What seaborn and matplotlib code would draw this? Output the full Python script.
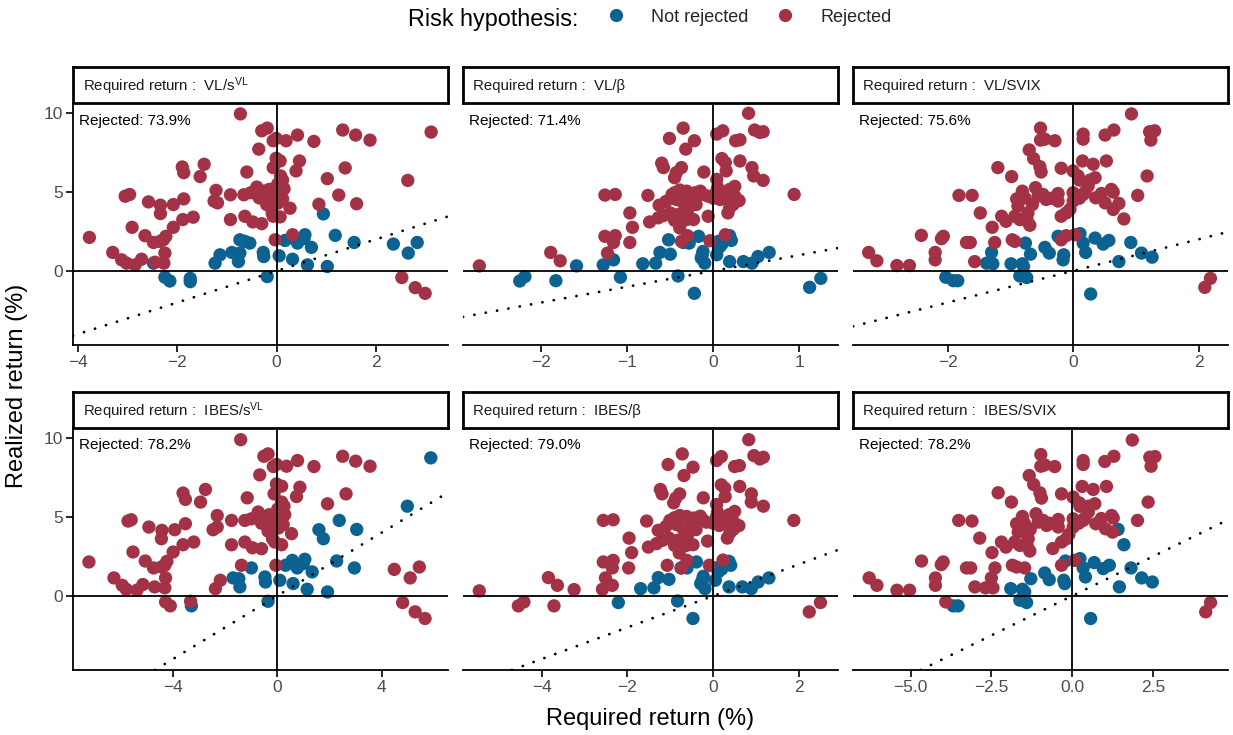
import matplotlib
matplotlib.use("Agg")
import matplotlib.pyplot as plt
import seaborn as sns
import pandas as pd
from matplotlib.lines import Line2D

# ---------------- data ----------------
panel_keys = ["VL_sVL", "VL_beta", "VL_SVIX", "IBES_sVL", "IBES_beta", "IBES_SVIX"]
strip_labels = [
    "Required return :  VL/$\\mathrm{s}^{\\mathrm{VL}}$",
    "Required return :  VL/β",
    "Required return :  VL/SVIX",
    "Required return :  IBES/$\\mathrm{s}^{\\mathrm{VL}}$",
    "Required return :  IBES/β",
    "Required return :  IBES/SVIX",
]
rejected_labels = ["Rejected: 73.9%", "Rejected: 71.4%", "Rejected: 75.6%",
                   "Rejected: 78.2%", "Rejected: 79.0%", "Rejected: 78.2%"]
status_order = ["Not rejected", "Rejected"]

# (required return, realized return) pairs
vl_svl_rejected = [
    (-0.73, 9.94), (-0.30, 8.87), (-0.19, 9.04), (-0.07, 8.24), (-0.01, 8.39), (0.19, 8.24),
    (0.42, 8.60), (0.75, 8.20), (1.33, 8.92), (1.59, 8.60), (1.88, 8.28), (3.11, 8.79),
    (-0.36, 7.71), (-0.01, 7.13), (0.07, 6.96), (-0.07, 6.54), (0.46, 6.96), (0.39, 6.33),
    (-1.90, 6.58), (-1.87, 6.22), (-1.46, 6.75), (-1.54, 5.97), (-0.60, 6.26), (0.08, 6.01),
    (0.12, 5.75), (1.38, 6.52), (1.02, 5.84), (2.64, 5.73), (-3.05, 4.73), (-2.96, 4.84),
    (-2.58, 4.37), (-2.34, 4.16), (-2.34, 3.63), (-2.08, 4.20), (-1.87, 4.56), (-1.22, 5.10),
    (-1.26, 4.42), (-1.19, 4.31), (-0.93, 4.82), (-0.66, 4.82), (-0.52, 4.95), (-0.40, 5.31),
    (-0.27, 5.05), (-0.15, 5.16), (-0.07, 4.99), (-0.23, 4.52), (-0.13, 4.42), (-0.03, 4.73),
    (0.07, 4.95), (0.15, 5.20), (0.12, 4.56), (-0.20, 4.20), (0.03, 4.30), (-0.35, 4.62),
    (0.02, 5.50), (-0.09, 3.67), (-0.07, 3.46), (0.07, 3.42), (0.27, 3.97), (0.85, 4.22),
    (1.25, 4.80), (1.61, 4.25), (-1.89, 3.25), (-1.68, 3.40), (-2.91, 2.76), (-2.08, 2.76),
    (-0.93, 3.25), (-0.64, 3.46), (-0.48, 3.10), (-0.30, 2.99), (-3.77, 2.12), (-2.65, 2.23),
    (-2.48, 1.80), (-2.35, 1.87), (-2.23, 2.19), (-2.28, 1.97), (-3.30, 1.17), (-3.12, 0.70),
    (-3.02, 0.49), (-2.85, 0.38), (-2.72, 0.74), (-2.25, 1.13), (-2.27, 0.49), (-2.45, 0.55),
    (-0.03, 1.97), (0.32, 2.29), (2.52, -0.42), (2.79, -1.06), (2.99, -1.42),
]
vl_svl_not = [
    (0.94, 3.61), (-0.74, 1.97), (-0.64, 1.87), (-0.54, 1.76), (0.17, 1.93), (0.42, 1.76),
    (0.57, 2.29), (0.70, 1.49), (1.18, 2.25), (1.56, 1.80), (2.35, 1.70), (2.65, 1.13),
    (2.83, 1.80), (-2.48, 0.49), (-1.24, 0.49), (-1.14, 1.02), (-0.90, 1.17), (-0.77, 0.59),
    (-0.74, 1.13), (-0.27, 1.17), (-0.26, 0.91), (0.05, 0.96), (0.32, 0.74), (0.62, 0.38),
    (1.02, 0.28), (-2.25, -0.40), (-2.15, -0.64), (-1.74, -0.47), (-1.74, -0.68),
    (-0.19, -0.36), (0.55, 2.05),
]

vl_beta_rejected = [
    (0.41, 9.98), (-0.35, 9.04), (0.48, 8.92), (0.54, 8.77), (0.58, 8.81), (0.04, 8.66),
    (0.11, 8.87), (-0.51, 8.39), (-0.22, 8.24), (-0.32, 7.71), (0.26, 8.24), (0.31, 8.30),
    (0.10, 7.11), (0.14, 6.86), (0.15, 6.33), (0.31, 6.96), (-0.60, 6.82), (-0.58, 6.54),
    (-0.37, 6.54), (-0.43, 6.22), (-0.45, 5.90), (-0.11, 6.26), (0.45, 6.54), (0.47, 6.01),
    (0.58, 5.73), (0.04, 5.80), (-1.26, 4.80), (-1.14, 4.84), (-0.76, 4.78),
    (-0.48, 4.84), (-0.39, 5.12), (-0.31, 5.05), (-0.21, 4.95), (-0.12, 4.84), (-0.06, 4.73),
    (0.04, 5.05), (0.19, 5.16), (0.25, 4.73), (0.14, 4.63), (0.08, 4.52), (-0.35, 4.31),
    (-0.43, 4.52), (-0.27, 4.42), (0.23, 4.20), (-0.45, 4.95), (-0.25, 4.70), (-0.15, 5.05),
    (0.00, 4.60), (0.10, 4.90), (0.20, 4.40), (-0.55, 4.40), (-0.30, 3.80), (-0.45, 3.20),
    (0.05, 5.30), (0.30, 4.45), (-0.20, 4.20), (0.25, 5.35),
    (0.94, 4.84), (-0.63, 4.16), (-0.97, 3.67), (-0.94, 2.76), (-0.97, 1.80), (-0.74, 3.10),
    (-0.64, 3.36), (-0.58, 3.50), (-0.50, 3.67), (-0.41, 3.57), (-0.39, 3.04), (-0.39, 2.72),
    (-0.31, 3.25), (-0.23, 3.25), (-0.06, 3.46), (0.17, 3.67), (0.19, 3.99), (-1.26, 2.19),
    (-1.14, 2.23), (-1.16, 1.80), (-1.23, 1.13), (-1.89, 1.17), (-1.78, 0.64), (-2.72, 0.32),
    (-0.37, 1.87), (-0.30, 2.23), (-0.04, 1.91), (0.14, 2.29),
]
vl_beta_not = [
    (-0.52, 1.97), (-0.35, 1.80), (-0.28, 1.76), (-0.17, 2.19), (0.19, 2.23), (0.21, 1.93),
    (0.06, 1.87), (0.08, 1.55), (-0.62, 1.17), (-0.50, 1.06), (-0.12, 1.23), (-0.14, 0.81),
    (-0.10, 0.49), (0.04, 1.02), (-1.16, 0.70), (-1.28, 0.38), (-1.59, 0.32), (-0.82, 0.45),
    (-0.67, 0.49), (0.19, 0.59), (0.35, 0.59), (0.45, 0.49), (0.52, 0.91), (0.65, 1.17),
    (-2.25, -0.64), (-2.19, -0.36), (-1.83, -0.62), (-1.08, -0.40), (-0.41, -0.32),
    (-0.22, -1.42), (1.12, -1.04), (1.25, -0.47), (0.10, 1.70), (-0.13, 1.00),
]

vl_svix_rejected = [
    (0.93, 9.94), (-0.52, 9.04), (-0.52, 8.28), (-0.45, 8.34), (-0.29, 8.24), (0.16, 8.66),
    (0.16, 8.34), (0.51, 8.60), (0.65, 8.92), (1.22, 8.81), (1.30, 8.87), (1.24, 8.28),
    (-0.70, 7.66), (-0.63, 7.11), (-0.53, 6.60), (-0.51, 6.26), (-1.20, 6.54), (-0.98, 5.97),
    (-0.19, 6.50), (0.00, 6.33), (0.08, 6.01), (0.10, 5.75), (0.15, 6.96), (0.32, 6.75),
    (0.53, 6.96), (0.27, 5.75), (0.35, 5.90), (1.18, 6.01), (-1.82, 4.78), (-1.61, 4.78),
    (-1.48, 3.67), (-1.29, 2.76), (-1.14, 3.46), (-1.07, 3.14),
    (-0.90, 4.56), (-0.81, 5.05), (-0.77, 4.63), (-0.88, 4.10), (-0.72, 3.67), (-0.73, 3.14),
    (-0.69, 2.89), (-0.93, 3.46), (-0.85, 3.25), (-0.74, 3.35), (-0.60, 5.27), (-0.56, 4.73),
    (-0.48, 4.84), (-0.43, 4.52), (-0.24, 4.90), (-0.24, 4.42), (-0.19, 3.46), (-0.11, 3.67),
    (0.00, 4.95), (0.00, 4.42), (0.19, 4.99), (0.24, 5.37), (0.16, 4.84), (0.36, 4.63),
    (0.51, 4.31), (0.61, 5.16), (0.64, 4.99), (0.73, 4.27), (0.64, 3.89), (0.81, 3.29),
    (1.03, 4.78), (-0.35, 4.60), (-0.65, 4.20), (0.10, 4.60), (-0.05, 3.90), (0.45, 4.90),
    (-2.42, 2.25), (-2.07, 2.19), (-2.10, 2.04), (-1.70, 1.80), (-1.64, 1.80), (-1.25, 1.80),
    (-0.97, 1.97), (-0.93, 1.87), (-3.26, 1.17), (-3.13, 0.64), (-2.81, 0.34), (-2.61, 0.34),
    (-2.20, 1.17), (-2.20, 0.70), (-1.57, 0.59), (-0.19, 1.97), (-0.11, 2.23), (0.03, 2.29),
    (2.10, -1.04), (2.19, -0.47),
]
vl_svix_not = [
    (-0.24, 2.19), (0.11, 2.36), (0.16, 1.76), (0.20, 1.17), (0.35, 2.08), (0.48, 1.70),
    (0.57, 1.93), (0.92, 1.80), (1.09, 1.13), (1.26, 0.87), (0.73, 0.59), (-0.76, 1.76),
    (-0.68, 1.06), (-0.45, 1.49), (-0.38, 1.13), (-0.15, 1.02), (-0.16, 0.70), (-1.30, 1.17),
    (-1.38, 0.49), (-1.28, 0.45), (-0.99, 0.45), (-0.81, 0.45), (-0.79, 0.28), (-2.03, -0.40),
    (-1.91, -0.62), (-1.84, -0.62), (-0.85, -0.32), (-0.74, -0.42), (0.28, -1.46),
]

ibes_svl_rejected = [
    (-1.40, 9.89), (-0.51, 8.84), (-0.35, 8.99), (-0.15, 8.19), (-0.03, 8.32), (0.36, 8.21),
    (0.78, 8.57), (1.41, 8.19), (2.51, 8.84), (3.01, 8.53), (3.56, 8.21), (-0.67, 7.66),
    (-0.03, 7.09), (0.17, 6.95), (-0.12, 6.46), (0.87, 6.88), (0.74, 6.29), (-3.61, 6.51),
    (-3.52, 6.11), (-2.75, 6.74), (-2.94, 5.94), (-1.15, 6.21), (0.17, 5.94), (0.26, 5.68),
    (2.64, 6.46), (1.93, 5.83), (-5.72, 4.74), (-5.60, 4.82), (-4.92, 4.36), (-4.42, 4.15),
    (-4.44, 3.62), (-3.93, 4.19), (-3.52, 4.57), (-2.30, 5.09), (-2.46, 4.19), (-2.30, 4.36),
    (-1.75, 4.78), (-1.24, 4.78), (-0.99, 4.88), (-0.73, 5.31),
    (-0.47, 4.99), (-0.31, 5.14), (-0.15, 4.88), (-0.41, 4.51), (-0.22, 4.36), (-0.03, 4.67),
    (0.17, 4.88), (0.29, 5.14), (0.23, 4.51), (-0.35, 4.10), (0.05, 4.30), (-0.60, 4.60),
    (0.02, 5.50), (-0.25, 4.75),
    (-0.18, 3.62), (-0.09, 3.41), (0.17, 3.24), (0.55, 3.94), (-3.61, 3.24), (-3.20, 3.41),
    (-5.53, 2.78), (-3.99, 2.78), (-1.75, 3.24), (-1.24, 3.41), (-0.95, 3.05), (-0.60, 2.99),
    (-7.22, 2.15), (-5.06, 2.21), (-4.74, 1.77), (-4.44, 1.83), (-4.23, 2.19), (-4.31, 1.94),
    (-6.26, 1.14), (-5.94, 0.67), (-5.79, 0.42), (-5.38, 0.36), (-5.15, 0.72), (-4.28, 1.14),
    (-4.31, 0.51), (-4.70, 0.57), (-1.37, 1.94), (-0.05, 1.94), (-2.37, 0.46), (-2.18, 0.99),
    (-3.32, -0.34), (-4.28, -0.38), (-4.10, -0.63), (4.49, 1.68), (5.10, 1.14), (5.45, 1.83),
    (4.81, -0.42), (5.29, -1.01), (5.67, -1.43),
]
ibes_svl_not = [
    (5.89, 8.74), (4.99, 5.68), (2.38, 4.78), (3.05, 4.21), (1.60, 4.19), (1.77, 3.62),
    (-0.99, 1.77), (-1.69, 1.14), (-1.47, 1.09), (-1.43, 0.57), (-0.47, 1.20), (-0.45, 0.88),
    (0.10, 0.99), (0.32, 1.94), (0.58, 2.25), (0.77, 1.77), (1.06, 2.32), (1.34, 1.52),
    (0.61, 0.78), (1.15, 0.42), (1.93, 0.25), (2.28, 2.21), (2.96, 1.77), (-3.29, -0.63),
    (-0.35, -0.34), (1.00, 2.05),
]

ibes_beta_rejected = [
    (0.83, 9.89), (-0.72, 8.99), (0.95, 8.88), (1.09, 8.67), (1.17, 8.78), (0.08, 8.57),
    (0.19, 8.82), (-1.05, 8.32), (-0.47, 8.15), (-0.68, 7.62), (0.50, 8.19), (0.61, 8.25),
    (0.19, 7.03), (0.27, 6.82), (0.28, 6.29), (0.62, 6.93), (-1.23, 6.74), (-1.19, 6.46),
    (-0.78, 6.46), (-0.87, 6.19), (-0.92, 5.89), (-0.23, 6.21), (0.89, 6.46), (0.89, 5.94),
    (1.17, 5.68), (0.08, 5.79), (-2.56, 4.78), (-2.33, 4.82), (-1.55, 4.74),
    (-1.01, 4.78), (-0.78, 5.09), (-0.62, 5.03), (-0.45, 4.93), (-0.25, 4.84), (-0.16, 4.67),
    (0.08, 5.03), (0.37, 5.14), (0.48, 4.67), (0.27, 4.63), (0.14, 4.46), (-0.70, 4.25),
    (-0.85, 4.51), (-0.54, 4.36), (0.47, 4.21), (-0.90, 4.95), (-0.50, 4.70), (-0.30, 5.05),
    (0.00, 4.60), (0.20, 4.90), (0.40, 4.40), (-1.10, 4.40), (-0.60, 3.80), (-0.90, 3.20),
    (0.10, 5.30), (0.60, 4.45), (-0.40, 4.20), (0.50, 5.35),
    (1.88, 4.78), (-1.28, 4.15), (-1.96, 3.66), (-1.90, 2.74), (-1.97, 1.77), (-1.51, 3.09),
    (-1.32, 3.31), (-1.18, 3.52), (-1.03, 3.66), (-0.83, 3.52), (-0.78, 2.99), (-0.79, 2.72),
    (-0.62, 3.20), (-0.47, 3.24), (-0.13, 3.47), (0.33, 3.66), (0.39, 4.00), (-2.56, 2.15),
    (-2.33, 2.25), (-2.35, 1.77), (-2.51, 1.14), (-2.58, 0.42), (-2.35, 0.67), (-3.84, 1.16),
    (-3.63, 0.67), (-3.24, 0.40), (-5.45, 0.32), (-4.54, -0.63), (-4.41, -0.38), (-3.71, -0.63),
    (-1.07, 1.94), (-0.74, 1.77), (-0.61, 2.25), (-0.09, 1.94), (0.23, 2.27), (2.24, -1.01),
    (2.50, -0.42),
]
ibes_beta_not = [
    (-0.39, 2.15), (-0.75, 1.77), (-0.61, 1.77), (0.37, 2.19), (0.41, 1.94), (0.08, 1.77),
    (0.12, 1.52), (-1.28, 1.16), (-1.03, 1.05), (-0.23, 1.24), (-0.29, 0.78), (-0.19, 0.46),
    (0.05, 0.99), (-1.69, 0.46), (-1.38, 0.51), (0.37, 0.57), (0.68, 0.57), (0.89, 0.46),
    (1.05, 0.88), (1.30, 1.14), (-2.21, -0.42), (-0.83, -0.32), (-0.47, -1.43), (0.20, 1.70),
    (-0.25, 1.00),
]

ibes_svix_rejected = [
    (1.86, 9.87), (-0.97, 8.95), (-0.97, 8.21), (-0.85, 8.29), (-0.54, 8.19), (0.34, 8.57),
    (0.34, 8.32), (1.01, 8.51), (1.29, 8.84), (2.40, 8.78), (2.56, 8.82), (2.44, 8.21),
    (-1.33, 7.62), (-1.19, 7.05), (-1.00, 6.53), (-0.95, 6.19), (-2.29, 6.53), (-1.88, 5.94),
    (-0.33, 6.46), (0.03, 6.25), (0.22, 5.89), (0.24, 5.68), (0.31, 6.93), (0.65, 6.74),
    (1.06, 6.93), (0.50, 5.68), (0.70, 5.83), (2.35, 5.94), (-3.51, 4.78), (-3.10, 4.74),
    (-2.86, 3.66), (-2.48, 2.74), (-2.19, 3.41), (-2.05, 3.09),
    (-1.72, 4.57), (-1.54, 5.03), (-1.47, 4.57), (-1.67, 4.04), (-1.36, 3.62), (-1.38, 3.09),
    (-1.31, 2.84), (-1.78, 3.41), (-1.62, 3.20), (-1.41, 3.31), (-1.12, 5.20), (-1.05, 4.67),
    (-0.90, 4.78), (-0.79, 4.46), (-0.43, 4.84), (-0.43, 4.36), (-0.33, 3.41), (-0.18, 3.62),
    (0.03, 4.88), (0.03, 4.36), (0.39, 4.93), (0.50, 5.31), (0.34, 4.78), (0.73, 4.57),
    (1.03, 4.25), (1.22, 5.09), (1.27, 4.93), (1.25, 4.04), (-0.70, 4.60), (-1.30, 4.20),
    (0.20, 4.60), (-0.10, 3.90), (0.90, 4.90), (-0.60, 3.00),
    (2.02, 4.78), (-4.66, 2.21), (-3.99, 2.15), (-4.05, 1.98), (-3.27, 1.77), (-3.14, 1.77),
    (-2.39, 1.77), (-1.85, 1.94), (-1.72, 1.83), (-1.47, 1.77), (-6.28, 1.14), (-6.04, 0.67),
    (-5.42, 0.36), (-5.03, 0.36), (-4.23, 1.14), (-4.23, 0.67), (-3.01, 0.57), (-2.68, 0.51),
    (-2.45, 0.51), (-2.50, 1.14), (-0.33, 1.94), (0.08, 2.25), (-3.91, -0.38), (4.13, -1.01),
    (4.28, -0.42),
]
ibes_svix_not = [
    (1.42, 4.21), (1.60, 3.24), (-0.21, 2.21), (0.24, 2.36), (0.34, 1.77), (0.41, 1.20),
    (0.68, 2.11), (0.96, 1.73), (1.15, 1.94), (1.82, 1.77), (2.15, 1.14), (2.48, 0.88),
    (1.46, 0.57), (-1.28, 1.09), (-0.85, 1.45), (-0.71, 1.03), (-0.26, 0.99), (-0.23, 0.78),
    (-1.90, 0.46), (-1.54, 0.42), (-1.47, 0.25), (-1.62, -0.27), (-1.41, -0.42), (-3.68, -0.63),
    (-3.53, -0.63), (0.57, -1.43),
]

panel_points = {
    "VL_sVL": (vl_svl_not, vl_svl_rejected),
    "VL_beta": (vl_beta_not, vl_beta_rejected),
    "VL_SVIX": (vl_svix_not, vl_svix_rejected),
    "IBES_sVL": (ibes_svl_not, ibes_svl_rejected),
    "IBES_beta": (ibes_beta_not, ibes_beta_rejected),
    "IBES_SVIX": (ibes_svix_not, ibes_svix_rejected),
}
x_ticks = [[-4, -2, 0, 2], [-2, -1, 0, 1], [-2, 0, 2],
           [-4, 0, 4], [-4, -2, 0, 2], [-5.0, -2.5, 0.0, 2.5]]
y_ticks = [0, 5, 10]

# ---------------- layout / style ----------------
x_limits = [(-4.10, 3.45), (-2.91, 1.45), (-3.51, 2.47),
            (-7.83, 6.55), (-5.83, 2.91), (-6.78, 4.82)]
y_limits = (-4.69, 10.63)
palette = {"Not rejected": "#0C6291", "Rejected": "#A33247"}

rows = []
for key in panel_keys:
    not_rej, rej = panel_points[key]
    for (x, y) in not_rej:
        rows.append((key, x, y, "Not rejected"))
    for (x, y) in rej:
        rows.append((key, x, y, "Rejected"))
df = pd.DataFrame(rows, columns=["panel", "required", "realized", "status"])

sns.set_theme(style="white")
plt.rcParams["font.family"] = ["Liberation Sans", "DejaVu Sans"]
plt.rcParams["mathtext.fontset"] = "custom"
plt.rcParams["mathtext.rm"] = "Liberation Sans"
plt.rcParams["mathtext.it"] = "Liberation Sans:italic"
plt.rcParams["mathtext.bf"] = "Liberation Sans:bold"
plt.rcParams["axes.unicode_minus"] = True

W, H = 1233, 735
fig = plt.figure(figsize=(W / 100, H / 100), dpi=100)
fig.patch.set_facecolor("white")

col_left = [73, 463, 853]
panel_w = 375
row_top = [103, 428]
row_bot = [345, 670]
strip_h = 36

def fx(px):
    return px / W

def fy(py):
    return 1 - py / H

tick_color = "#4D4D4D"
for i, key in enumerate(panel_keys):
    r, c = divmod(i, 3)
    left = col_left[c]
    top, bot = row_top[r], row_bot[r]
    ax = fig.add_axes([fx(left), fy(bot), panel_w / W, (bot - top) / H])
    ax.set_facecolor("white")
    sub = df[df["panel"] == key]
    sns.scatterplot(data=sub, x="required", y="realized", hue="status",
                    hue_order=status_order, palette=palette, s=92, linewidth=0,
                    alpha=1, legend=False, ax=ax, zorder=3)
    ax.axhline(0, color="black", lw=1.3, zorder=4)
    ax.axvline(0, color="black", lw=1.3, zorder=4)
    ax.axline((0, 0), slope=1, color="black", lw=2.0,
              linestyle=(0, (0.05, 4.1)), dash_capstyle="round", zorder=4)
    ax.set_xlim(*x_limits[i])
    ax.set_ylim(*y_limits)
    ax.set_xticks(x_ticks[i])
    ax.set_yticks(y_ticks)
    ax.set_xlabel("")
    ax.set_ylabel("")
    for s in ["top", "right"]:
        ax.spines[s].set_visible(False)
    ax.spines["bottom"].set_color("black")
    ax.spines["bottom"].set_linewidth(1.3)
    if c == 0:
        ax.spines["left"].set_color("black")
        ax.spines["left"].set_linewidth(1.3)
        ax.tick_params(axis="y", left=True, length=5, width=1.2, color="black",
                       labelsize=12.5, labelcolor=tick_color, pad=2.5)
    else:
        ax.spines["left"].set_visible(False)
        ax.tick_params(axis="y", left=False, labelleft=False)
    ax.tick_params(axis="x", bottom=True, length=5, width=1.2, color="black",
                   labelsize=12.5, labelcolor=tick_color, pad=2.5)
    ax.grid(False)
    ax.text(6 / panel_w, 1 - 17.5 / (bot - top), rejected_labels[i],
            transform=ax.transAxes, ha="left", va="center", fontsize=11,
            color="black", zorder=5)

    # strip
    sax = fig.add_axes([fx(left), fy(top), panel_w / W, strip_h / H])
    sax.set_facecolor("white")
    sax.set_xticks([])
    sax.set_yticks([])
    for s in sax.spines.values():
        s.set_visible(True)
        s.set_color("black")
        s.set_linewidth(2.0)
    sax.text(10 / panel_w, 0.47, strip_labels[i], transform=sax.transAxes,
             ha="left", va="center", fontsize=10.8, color="#1A1A1A")

# axis titles
fig.text(fx(650.5), fy(725), "Required return (%)", ha="center", va="baseline",
         fontsize=17, color="black")
fig.text(fx(17), fy(386), "Realized return (%)", ha="center", va="center",
         rotation=90, fontsize=17, color="black")

# legend
fig.text(fx(408), fy(26), "Risk hypothesis:", ha="left", va="baseline",
         fontsize=16.8, color="black")
handles = [Line2D([], [], marker="o", linestyle="", markersize=9.5,
                  markerfacecolor=palette[k], markeredgewidth=0) for k in status_order]
fig.legend(handles, status_order, loc="center left", bbox_to_anchor=(fx(607), fy(17)),
           ncol=2, frameon=False, fontsize=13, handlelength=1.0, handletextpad=1.44,
           columnspacing=1.55, borderpad=0, borderaxespad=0)

fig.savefig("out.png", dpi=100, facecolor="white")
